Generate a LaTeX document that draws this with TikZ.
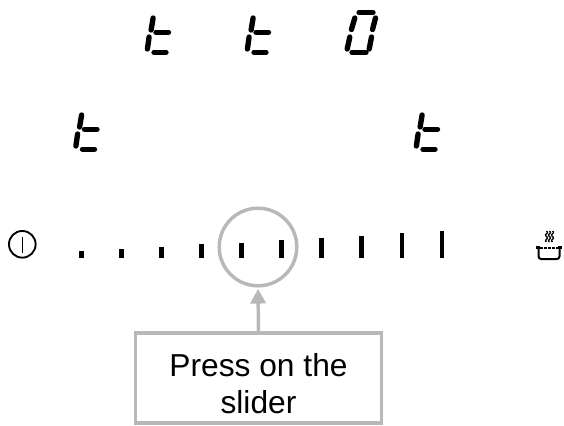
\documentclass[tikz,border=0pt]{standalone}
\usepackage{fontspec}
\setmainfont{Liberation Sans}
\usetikzlibrary{arrows.meta}
\tikzset{
  seg/.style={black, line width=4pt, line cap=round},
  bar/.style={black, line width=3.4pt},
  callout/.style={draw=black!28, line width=2.6pt},
  pot/.style={black, line width=1.5pt},
}
\newcommand{\segT}{%
  \draw[seg] (3.1,-34) -- (1.1,-22);
  \draw[seg] (-0.9,-15) -- (-2.6,-3);
  \draw[seg] (6,-19.7) -- (18.5,-19.7);
  \draw[seg] (4,0.3) -- (16,0.3);
}
\begin{document}
\begin{tikzpicture}[x=0.75pt,y=-0.75pt]
        \useasboundingbox (0,0) rectangle (564,425);
        \foreach \x/\y in {150/52,250/52,78.5/149,419/149} \begin{scope}[shift={(\x,\y)}] \segT \end{scope};
        \begin{scope}[shift={(350,52)}]
                \draw[seg] (9,-39.3) -- (23,-39.3);
                \draw[seg] (4.8,-34) -- (1.4,-22.5);
                \draw[seg] (25.5,-34) -- (22.5,-22.5);
                \draw[seg] (-0.2,-15) -- (-2.8,-3);
                \draw[seg] (21.5,-15) -- (19.2,-3);
                \draw[seg] (2,0.5) -- (16,0.5);
        \end{scope}
        \foreach \x/\y in {81.7/251,121.7/249,161.7/246.7,201.7/244,241.7/242.5,281.7/240,321.7/238.3,361.7/235.7,402/233.3,442/231.3}
                \draw[bar] (\x,\y) -- (\x,257.5);
        \node[circle, callout, minimum size=58.2pt, inner sep=0pt] (ring) at (258,247) {};
        \node[rectangle, callout, minimum width=184.5pt, minimum height=67.5pt, inner sep=0pt, align=center,
              font=\fontsize{23.8}{27.5}\selectfont] (press) at (258.5,378) {\rule{0pt}{25.5pt}Press on the\\slider};
        \draw[callout, -{Triangle[length=11pt,width=11.5pt]}, shorten >=1pt] (press.north) -- (ring.south);
        \node[circle, draw, line width=1.4pt, minimum size=20pt, inner sep=0pt] (power) at (22.3,244.3) {};
        \draw[line width=1.1pt] (22.3,236.5) -- (22.3,253);
        \foreach \s in {546.5,549.5,552.5}
                \draw[black, line width=1pt] plot[domain=0:11, samples=20, smooth] ({\s+0.9*sin(\x*65)}, {231+\x});
        \draw[pot, line width=2.6pt] (536,247.5) -- (540,247.5);
        \draw[pot, line width=2.6pt] (558,247.5) -- (562,247.5);
        \draw[pot, line width=1.2pt, dash pattern=on 2pt off 1pt] (540,248) -- (558,248);
        \draw[pot, rounded corners=2pt] (538.5,248) -- (538.5,259) -- (559.5,259) -- (559.5,248);
\end{tikzpicture}
\end{document}
